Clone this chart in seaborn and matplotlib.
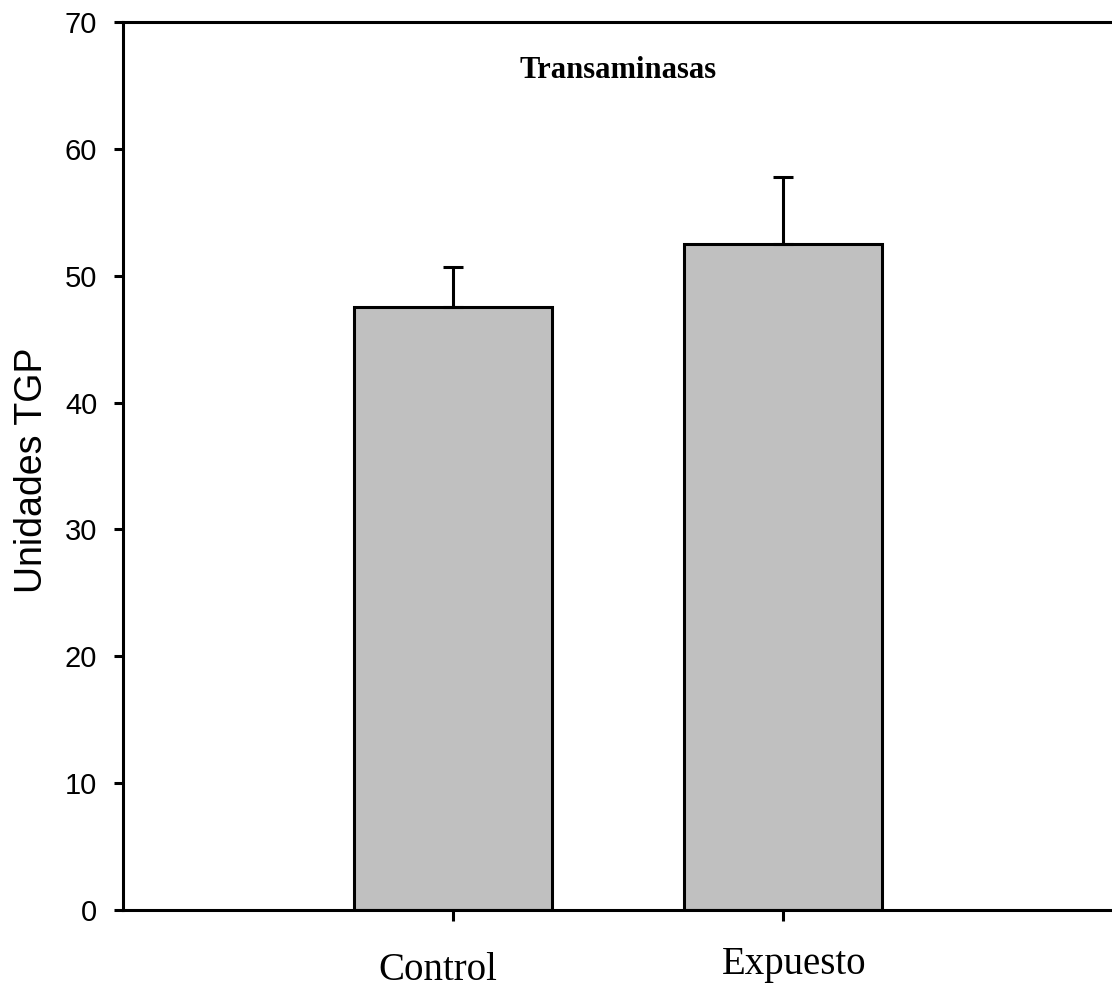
import matplotlib
matplotlib.use("Agg")
import matplotlib.pyplot as plt
import matplotlib.transforms as mtransforms
import seaborn as sns
import pandas as pd

# Mean TGP units per group and their (upper) standard error
groups = ["Control", "Expuesto"]
means = [47.5, 52.5]
errors = [3.2, 5.3]
y_ticks = [0, 10, 20, 30, 40, 50, 60, 70]

sns.set_theme(style="white")
plt.rcParams["font.family"] = ["Liberation Sans", "DejaVu Sans"]
plt.rcParams.update({"text.color": "black", "axes.labelcolor": "black",
                     "xtick.color": "black", "ytick.color": "black"})

W, H = 1112, 989
fig = plt.figure(figsize=(W / 100, H / 100), dpi=100)
ax = fig.add_axes([123 / W, (H - 910) / H, (1113 - 123) / W, (910 - 22) / H])

df = pd.DataFrame({"grupo": groups, "tgp": means})
sns.barplot(data=df, x="grupo", y="tgp", color="#c0c0c0", saturation=1,
            width=0.6, edgecolor="black", linewidth=2.2, errorbar=None, ax=ax)

# one-sided error bars (upward only)
ax.errorbar(range(len(groups)), means, yerr=[[0] * len(groups), errors],
            fmt="none", ecolor="black", elinewidth=2.2, capsize=7,
            capthick=2.2, zorder=5)

ax.set_xlim(-1, 2)
ax.set_ylim(0, 70)
ax.set_yticks(y_ticks)
ax.set_yticklabels([str(v) for v in y_ticks], fontsize=21)
ax.set_xlabel("")
ax.set_ylabel("Unidades TGP", fontsize=27)
ax.yaxis.label.set_verticalalignment("center")
ax.yaxis.set_label_coords((32 - 123) / (1113 - 123), 0.495)

for side in ["left", "bottom", "top"]:
    ax.spines[side].set_visible(True)
    ax.spines[side].set_color("black")
    ax.spines[side].set_linewidth(2.2)
ax.spines["right"].set_visible(False)

ax.tick_params(axis="y", direction="out", length=6.5, width=2.2,
               color="black", pad=12, left=True)
ax.tick_params(axis="x", direction="out", length=8, width=2.2,
               color="black", pad=20, bottom=True)

ax.set_xticks(range(len(groups)))
ax.set_xticklabels(groups, fontsize=28, family="Liberation Serif")
# slight per-label shifts of the category names (in points)
shifts = [(-11, -2), (8, 2)]
for lab, (dx, dy) in zip(ax.get_xticklabels(), shifts):
    lab.set_transform(lab.get_transform() +
                      mtransforms.ScaledTranslation(dx / 72, dy / 72,
                                                    fig.dpi_scale_trans))

ax.text(0.5, 0.937, "Transaminasas", transform=ax.transAxes, ha="center",
        va="baseline", fontsize=22, fontweight="bold",
        family="Liberation Serif")

fig.savefig("out.png", dpi=100)
